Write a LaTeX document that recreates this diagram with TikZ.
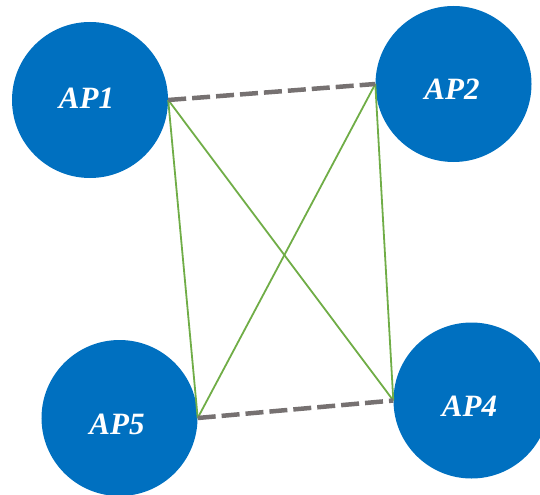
\documentclass[tikz,border=0pt]{standalone}
\usepackage{fontspec}
\setmainfont{Liberation Serif}
\definecolor{apblue}{HTML}{0070C0}
\definecolor{linkgreen}{HTML}{70AD47}
\definecolor{linkgray}{HTML}{767171}
\begin{document}
\begin{tikzpicture}[x=1bp,y=-1bp,
  ap/.style={circle,fill=apblue,draw=none,minimum size=156bp,inner sep=0pt},
  aplabel/.style={inner sep=0pt,text=white,
    font=\fontsize{31bp}{36bp}\selectfont\bfseries\itshape},
  wired/.style={draw=linkgray,line width=4.5bp,dash pattern=on 18bp off 6bp},
  wireless/.style={draw=linkgreen,line width=1.8bp}]
\useasboundingbox (0,0) rectangle (540,495);
% access points
\node[ap] (ap1) at (90,100) {};
\node[ap] (ap2) at (453.5,84) {};
\node[ap] (ap5) at (119.5,418) {};
\node[ap] (ap4) at (471.5,400.5) {};
\node[aplabel] (t1) at (86.5,98) {AP1};
\node[aplabel] (t2) at (452,89.5) {AP2};
\node[aplabel] (t5) at (117,424) {AP5};
\node[aplabel] (t4) at (469.5,406) {AP4};
% wireless mesh links
\draw[wireless] (ap1.east) -- (ap5.east);
\draw[wireless] (ap1.east) -- (ap4.west);
\draw[wireless] (ap2.west) -- (ap5.east);
\draw[wireless] (ap2.west) -- (ap4.west);
% wired links
\draw[wired] (ap1.east) -- (ap2.west);
\draw[wired] (ap5.east) -- (ap4.west);
\end{tikzpicture}
\end{document}
